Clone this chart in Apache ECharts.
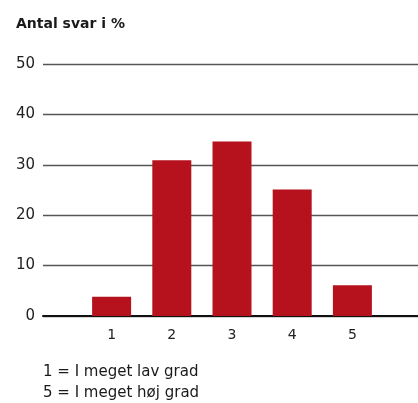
<!DOCTYPE html>
<html>
<head>
<meta charset="UTF-8">
<title>Antal svar</title>
<script type="text/javascript" src="https://cdn.jsdelivr.net/npm/echarts@6/dist/echarts.min.js"></script>
<style>
  html, body { margin: 0; padding: 0; background: #fff; }
</style>
</head>
<body>
<div id="main" style="width:418px;height:403px"></div>
<script type="text/javascript">
  // skala 1-5, andel svar i procent
  var categories = [1, 2, 3, 4, 5];
  var values = [3.8, 30.9, 34.6, 25.1, 6.1];
  var yTicks = [0, 10, 20, 30, 40, 50];
  var noteLines = ['1 = I meget lav grad', '5 = I meget høj grad'];

  var font = 'DejaVu Sans';
  var myChart = echarts.init(document.getElementById('main'));

  var barData = categories.map(function (c, i) {
    return [c, values[i]];
  });

  var option = {
    animation: false,
    textStyle: { fontFamily: font },
    title: {
      text: 'Antal svar i %',
      left: 11,
      top: 12,
      textStyle: { fontFamily: font, fontSize: 14, fontWeight: 'bold', color: '#1a1a1a' }
    },
    grid: { left: 43, right: 0, top: 64, bottom: 87, containLabel: false },
    xAxis: {
      type: 'value',
      min: -0.14,
      max: 6.09,
      splitLine: { show: false },
      axisTick: { show: false },
      axisLine: { show: true, onZero: true, lineStyle: { color: '#111', width: 2 } },
      axisLabel: {
        customValues: categories,
        margin: 12,
        fontSize: 14,
        color: '#222',
        fontFamily: font
      }
    },
    yAxis: {
      type: 'value',
      min: yTicks[0],
      max: yTicks[yTicks.length - 1],
      interval: 10,
      axisLine: { show: false },
      axisTick: { show: false },
      axisLabel: { margin: 8, fontSize: 15, color: '#222', fontFamily: font },
      splitLine: { lineStyle: { color: '#555', width: 1.3 } }
    },
    series: [{
      type: 'bar',
      data: barData,
      barWidth: 39,
      itemStyle: { color: '#b5121e' }
    }],
    graphic: noteLines.map(function (t, i) {
      return {
        type: 'text',
        left: 43,
        top: 365 + i * 21,
        style: { text: t, fontFamily: font, fontSize: 15, fill: '#1a1a1a' }
      };
    })
  };
  myChart.setOption(option);
</script>
</body>
</html>
